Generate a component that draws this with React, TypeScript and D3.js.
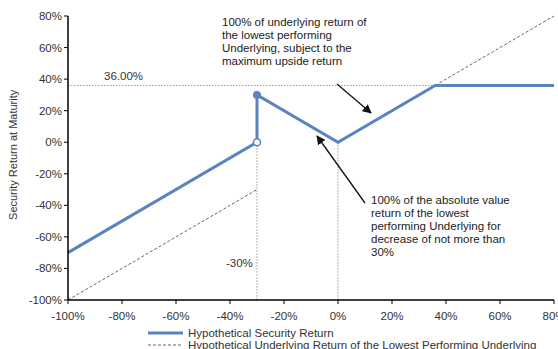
import React from "react";
import * as d3 from "d3";

const xTicks = [-100, -80, -60, -40, -20, 0, 20, 40, 60, 80];
const yTicks = [80, 60, 40, 20, 0, -20, -40, -60, -80, -100];

// Hypothetical Security Return
const secLow = [
  { x: -100, y: -70 },
  { x: -30, y: 0 },
];
const secHigh = [
  { x: -30, y: 0 },
  { x: -30, y: 30 },
  { x: 0, y: 0 },
  { x: 36, y: 36 },
  { x: 80, y: 36 },
];
// Hypothetical Underlying Return (visible parts)
const underlyingA = [
  { x: -100, y: -100 },
  { x: -30, y: -30 },
];
const underlyingB = [
  { x: 36, y: 36 },
  { x: 80, y: 80 },
];

const capLevel = 36;
const barrier = -30;

const topNote = [
  "100% of underlying return of",
  "the lowest  performing",
  "Underlying, subject to the",
  "maximum  upside return",
];
const bottomNote = [
  "100% of the absolute value",
  "return of the lowest",
  "performing Underlying  for",
  "decrease of not more than",
  "30%",
];

export default function App() {
  const W = 558, H = 349;
  const x = d3.scaleLinear().domain([-100, 80]).range([68, 554]);
  const y = d3.scaleLinear().domain([-100, 80]).range([300, 16]);
  const line = d3
    .line<{ x: number; y: number }>()
    .x((d) => x(d.x))
    .y((d) => y(d.y));
  const blue = "#5a84bd";
  const font = "'Liberation Sans', Arial, sans-serif";
  const tc = "#333";
  const fs = 11.5;

  return (
    <svg
      width={W}
      height={H}
      style={{ position: "absolute", left: 0, top: 0, background: "#fff" }}
      fontFamily={font}
    >
      <defs>
        <marker id="arr" viewBox="0 0 10 10" refX="9" refY="5" markerWidth="7" markerHeight="7" orient="auto">
          <path d="M0,0 L10,5 L0,10 z" fill="#111" />
        </marker>
      </defs>

      {/* reference dotted lines */}
      <line x1={x(-100)} x2={x(capLevel)} y1={y(capLevel)} y2={y(capLevel)} stroke="#999" strokeDasharray="1.5,1.5" />
      <line x1={x(barrier)} x2={x(barrier)} y1={y(0)} y2={y(-100)} stroke="#999" strokeDasharray="1.5,1.5" />
      <line x1={x(0)} x2={x(0)} y1={y(0)} y2={y(-100)} stroke="#999" strokeDasharray="1.5,1.5" />

      {/* underlying dashed */}
      <path d={line(underlyingA) || ""} fill="none" stroke="#666" strokeWidth={1} strokeDasharray="3,2" />
      <path d={line(underlyingB) || ""} fill="none" stroke="#666" strokeWidth={1} strokeDasharray="3,2" />

      {/* security line */}
      <path d={line(secLow) || ""} fill="none" stroke={blue} strokeWidth={3} />
      <path d={line(secHigh) || ""} fill="none" stroke={blue} strokeWidth={3} strokeLinejoin="miter" />
      <circle cx={x(-30)} cy={y(30)} r={4} fill={blue} />
      <circle cx={x(-30)} cy={y(0)} r={3.5} fill="#fff" stroke={blue} strokeWidth={1.5} />

      {/* axes */}
      <line x1={x(-100)} x2={x(-100)} y1={y(80)} y2={y(-100)} stroke="#000" strokeWidth={1.5} />
      <line x1={x(-100)} x2={x(80)} y1={y(-100)} y2={y(-100)} stroke="#000" strokeWidth={1.5} />
      {yTicks.map((t) => (
        <g key={"y" + t}>
          <line x1={x(-100) - 4} x2={x(-100)} y1={y(t)} y2={y(t)} stroke="#000" />
          <text x={x(-100) - 6} y={y(t)} dy="0.35em" textAnchor="end" fontSize={fs} fill={tc}>
            {t}%
          </text>
        </g>
      ))}
      {xTicks.map((t) => (
        <g key={"x" + t}>
          <line x1={x(t)} x2={x(t)} y1={y(-100)} y2={y(-100) + 4} stroke="#000" />
          <text x={x(t)} y={y(-100) + 16} dy="0.35em" textAnchor="middle" fontSize={fs} fill={tc}>
            {t}%
          </text>
        </g>
      ))}
      <text
        transform={`translate(17,${y(-8)}) rotate(-90)`}
        textAnchor="middle"
        fontSize={11}
        fill={tc}
      >
        Security Return  at Maturity
      </text>

      {/* labels */}
      <text x={104} y={76} dy="0.35em" fontSize={fs} fill={tc}>36.00%</text>
      <text x={226} y={263} dy="0.35em" fontSize={fs} fill={tc}>-30%</text>

      {topNote.map((s, i) => (
        <text key={"t" + i} x={222} y={22 + i * 13} dy="0.35em" fontSize={fs} fill="#222">
          {s}
        </text>
      ))}
      {bottomNote.map((s, i) => (
        <text key={"b" + i} x={371} y={200 + i * 13} dy="0.35em" fontSize={fs} fill="#222">
          {s}
        </text>
      ))}

      {/* arrows */}
      <line x1={337} y1={84} x2={371} y2={113} stroke="#111" strokeWidth={1.3} markerEnd="url(#arr)" />
      <line x1={365} y1={203} x2={317} y2={136} stroke="#111" strokeWidth={1.3} markerEnd="url(#arr)" />

      {/* legend */}
      <line x1={148} x2={183} y1={333} y2={333} stroke={blue} strokeWidth={3} />
      <text x={188} y={333} dy="0.35em" fontSize={fs} fill={tc}>Hypothetical Security Return</text>
      <line x1={148} x2={183} y1={345} y2={345} stroke="#666" strokeWidth={1} strokeDasharray="3,2" />
      <text x={188} y={345} dy="0.35em" fontSize={fs} fill={tc}>
        Hypothetical Underlying Return of the Lowest Performing Underlying
      </text>
    </svg>
  );
}
